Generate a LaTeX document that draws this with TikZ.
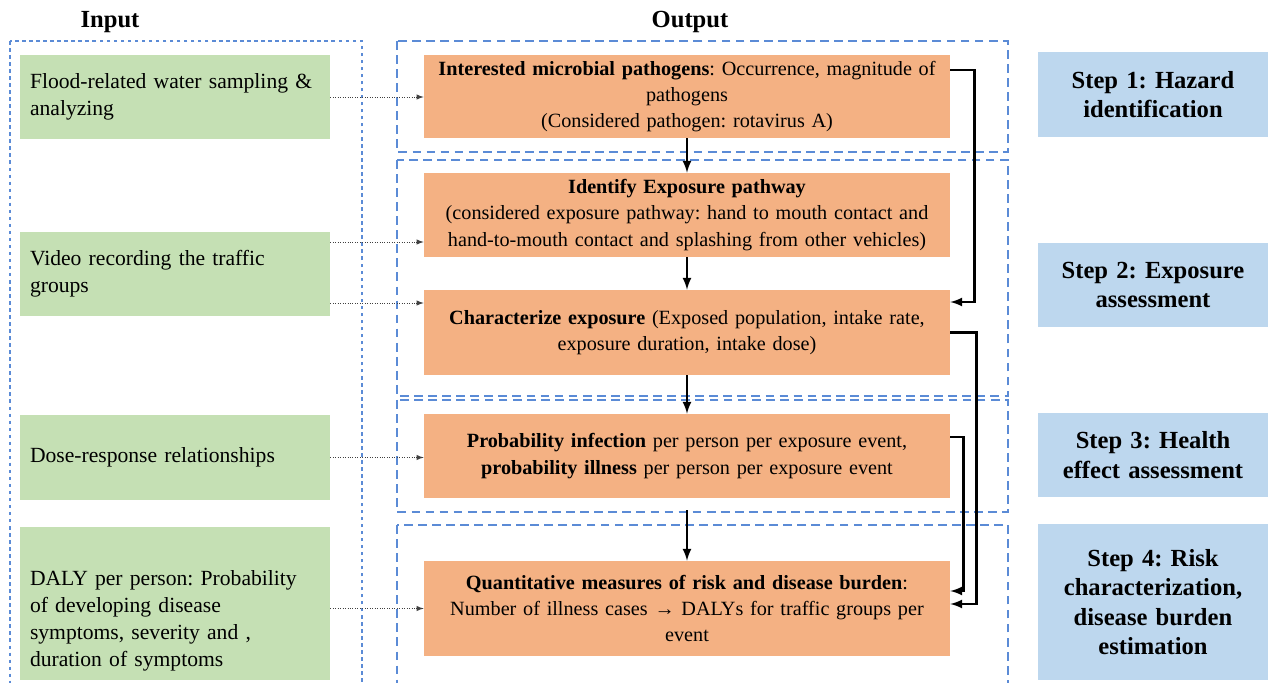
\documentclass[tikz,border=0pt]{standalone}
\usepackage{fontspec}
\setmainfont{Liberation Serif}
\usepackage{tikz}
\usetikzlibrary{arrows, positioning}
\usepackage{xcolor}
\definecolor{ingreen}{HTML}{C5E0B4}
\definecolor{outorange}{HTML}{F4B183}
\definecolor{stepblue}{HTML}{BDD7EE}
\definecolor{dashblue}{HTML}{5B8BD6}
\frenchspacing

\begin{document}
\begin{tikzpicture}[>=latex]
    \tikzstyle{inbox}=[fill=ingreen, text width=5.8cm, inner xsep=0.2cm, align=left, font=\fontsize{12.3}{15.3}\selectfont]
    \tikzstyle{outbox}=[fill=outorange, text width=10.12cm, inner xsep=0.2cm, align=center, font=\fontsize{11.5}{15}\selectfont]
    \tikzstyle{stepbox}=[fill=stepblue, text width=4.2cm, inner xsep=0.2cm, align=center, font=\fontsize{14}{16.8}\selectfont\bfseries]
    \tikzstyle{title}=[font=\fontsize{14}{16}\selectfont\bfseries]
    \tikzstyle{stage}=[draw=dashblue, line width=0.7pt, dash pattern=on 5pt off 3pt]
    \tikzstyle{dotarrow}=[->, densely dotted, black!75, thin]

    \useasboundingbox (0,0) rectangle (25.36,-13.66);

    % column titles
    \node[title] (tin) at (2.2,-0.44) {Input};
    \node[title] (tout) at (13.8,-0.44) {Output};

    % dashed frames
    \draw[draw=dashblue, line width=0.6pt, dash pattern=on 2pt off 2pt] (0.20,-0.82) rectangle (7.24,-13.9);
    \draw[stage] (7.94,-0.82) rectangle (20.16,-3.04);
    \draw[stage] (7.94,-3.20) rectangle (20.16,-7.92);
    \draw[stage] (7.94,-8.00) rectangle (20.16,-10.24);
    \draw[stage] (7.94,-10.50) rectangle (20.16,-13.9);

    % inputs
    \node[inbox, minimum height=1.68cm] (G1) at (3.50,-1.94) {Flood-related water sampling \&\\ analyzing};
    \node[inbox, minimum height=1.68cm] (G2) at (3.50,-5.48) {Video recording the traffic\\ groups};
    \node[inbox, minimum height=1.70cm] (G3) at (3.50,-9.15) {Dose-response relationships};
    \node[inbox, minimum height=3.06cm] (G4) at (3.50,-12.07) {\rule{0pt}{1.0cm}DALY per person: Probability\\ of developing disease\\ symptoms, severity and ,\\ duration of symptoms};

    % outputs
    \node[outbox, minimum height=1.66cm] (O1) at (13.74,-1.93) {\textbf{Interested microbial pathogens}: Occurrence, magnitude of\\ pathogens\\ (Considered pathogen: rotavirus A)};
    \node[outbox, minimum height=1.68cm] (O2) at (13.74,-4.30) {\textbf{Identify Exposure pathway}\\ (considered exposure pathway: hand to mouth contact and\\ hand-to-mouth contact and splashing from other vehicles)};
    \node[outbox, minimum height=1.70cm] (O3) at (13.74,-6.65) {\textbf{Characterize exposure} (Exposed population, intake rate,\\ exposure duration, intake dose)};
    \node[outbox, minimum height=1.68cm] (O4) at (13.74,-9.12) {\textbf{Probability infection} per person per exposure event,\\ \textbf{probability illness} per person per exposure event};
    \node[outbox, minimum height=1.90cm] (O5) at (13.74,-12.17) {\textbf{Quantitative measures of risk and disease burden}:\\ Number of illness cases \textbf{→} DALYs for traffic groups per\\ event};

    % steps
    \node[stepbox, minimum height=1.70cm] (S1) at (23.06,-1.89) {Step 1: Hazard\\ identification};
    \node[stepbox, minimum height=1.68cm] (S2) at (23.06,-5.70) {Step 2: Exposure\\ assessment};
    \node[stepbox, minimum height=1.68cm] (S3) at (23.06,-9.10) {Step 3: Health\\ effect assessment};
    \node[stepbox, minimum height=3.12cm] (S4) at (23.06,-12.04) {Step 4: Risk\\ characterization,\\ disease burden\\ estimation};

    % input arrows
    \draw[dotarrow] (G1.east) -- (G1.east -| O1.west);
    \draw[dotarrow] ([yshift=0.64cm]G2.east) -- ([yshift=-0.54cm]O2.west);
    \draw[dotarrow] ([yshift=-0.58cm]G2.east) -- ([yshift=0.59cm]O3.west);
    \draw[dotarrow] (G3.east) -- (G3.east -| O4.west);
    \draw[dotarrow] (O5.west -| G4.east) -- (O5.west);

    % main flow
    \path[->,draw,line width=1.3pt]
    (O1) edge node {} (O2)
    (O2) edge node {} (O3)
    (O3) edge node {} (O4)
    ;
    \draw[->, line width=1.3pt, shorten <=0.24cm] (O4) -- (O5);

    % side links
    \draw[->, line width=1.3pt] ([yshift=0.53cm]O1.east) -- ++(0.48,0) |- ([yshift=0.61cm]O3.east);
    \draw[->, line width=1.3pt] (O3.east) -- ++(0.52,0) |- ([yshift=0.09cm]O5.east);
    \draw[->, line width=1.3pt] ([yshift=0.38cm]O4.east) -- ++(0.26,0) |- ([yshift=0.35cm]O5.east);
\end{tikzpicture}
\end{document}
